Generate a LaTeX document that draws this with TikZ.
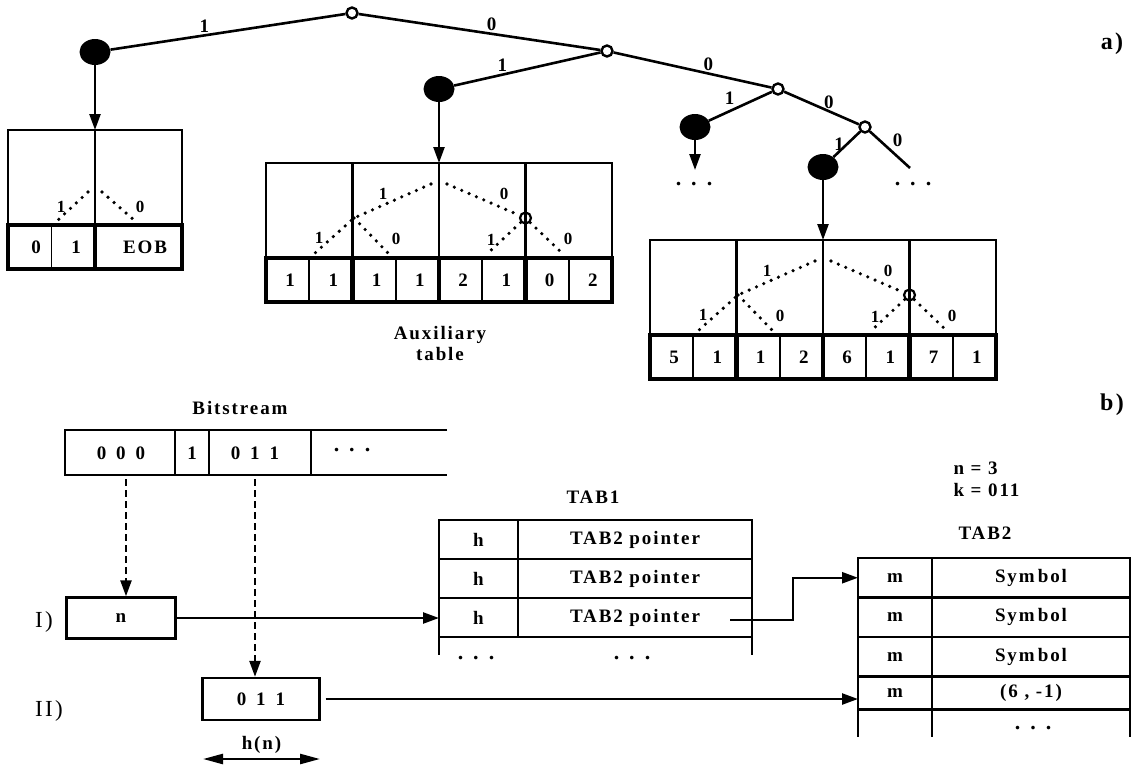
\documentclass[tikz,border=0pt]{standalone}
\usepackage{fontspec}
\setmainfont{Liberation Serif}[LetterSpace=10]
\usetikzlibrary{arrows.meta,positioning,shapes.geometric}
\newcommand{\bitgap}{\hspace{10pt}}

\begin{document}
\begin{tikzpicture}[x=1pt,y=-1pt,
  edge/.style={line width=2.6pt},
  frame/.style={line width=2.6pt},
  heavy/.style={line width=4.2pt},
  split/.style={line width=1.8pt},
  dotline/.style={line width=3.6pt,line cap=round,dash pattern=on 0pt off 8pt},
  arr/.style={line width=2.4pt,-{Triangle[length=16pt,width=11pt]}},
  dasharr/.style={arr,dash pattern=on 7pt off 4pt},
  dbl/.style={line width=2.4pt,{Triangle[length=20pt,width=10pt]}-{Triangle[length=20pt,width=10pt]}},
  knot/.style={circle,draw,line width=2.4pt,fill=white,minimum size=11pt,inner sep=0pt},
  ring/.style={circle,draw,line width=2.2pt,minimum size=11pt,inner sep=0pt},
  leaf/.style={ellipse,fill=black,minimum width=31pt,minimum height=26pt,inner sep=0pt},
  txt/.style={font=\bfseries\fontsize{19}{21}\selectfont},
  lbl/.style={txt,inner sep=1.5pt},
  small/.style={font=\bfseries\fontsize{17}{19}\selectfont,inner sep=0pt},
  dots/.style={font=\bfseries\fontsize{22}{24}\selectfont},
  cell/.style={draw,line width=2.4pt,outer sep=0pt,minimum height=39pt,inner sep=0pt,txt},
  cellb/.style={cell,minimum height=39.5pt},
]
\useasboundingbox (0,0) rectangle (1135,766);

\node[knot] (root) at (352,13) {};
\node[leaf] (l1) at (95,52) {};
\node[knot] (n2) at (607,51) {};
\node[leaf] (l2) at (439,89) {};
\node[knot] (n3) at (778,89) {};
\node[leaf] (l3) at (695,127) {};
\node[knot] (n4) at (865,127) {};
\node[leaf] (l4) at (823,167) {};
\coordinate (e4) at (910,168);

\draw[edge] (root) -- node[lbl,above,pos=0.6] {1} (l1);
\draw[edge] (root) -- node[lbl,above,pos=0.55] {0} (n2);
\draw[edge] (n2) -- node[lbl,above,pos=0.67] {1} (l2);
\draw[edge] (n2) -- node[lbl,above,pos=0.6] {0} (n3);
\draw[edge] (n3) -- node[lbl,above left,pos=0.55] {1} (l3);
\draw[edge] (n3) -- node[lbl,above,pos=0.6] {0} (n4);
\draw[edge] (n4) -- node[lbl,left,pos=0.5] {1} (l4);
\draw[edge] (n4) -- node[lbl,above right,pos=0.5] {0} (e4);

\coordinate (t1) at (95,130);
\coordinate (t2) at (439,163);
\coordinate (d3) at (695,170);
\coordinate (t4) at (823,240);
\draw[arr] (l1) -- (t1);
\draw[arr] (l2) -- (t2);
\draw[arr] (l3) -- (d3);
\draw[arr] (l4) -- (t4);
\node[dots] (dots3) at (694,184) {.\bitgap.\bitgap.};
\node[dots] (dots4) at (913,184) {.\bitgap.\bitgap.};
\node[font=\bfseries\fontsize{24}{26}\selectfont] (parta) at (1112,44) {a)};

\begin{scope}[shift={(8,130)}]
  \draw[frame] (0,0) rectangle (174,95);
  \draw[frame] (87,0) -- (87,95);
  \draw[heavy] (0,95) rectangle (174,139);
  \draw[heavy] (87,95) -- (87,139);
  \draw[split] (43.5,95) -- (43.5,139);
  \draw[dotline] (80,62) -- (50,90);
  \draw[dotline] (94,62) -- (126,90);
  \node[small] (la1) at (53,77) {1};
  \node[small] (la0) at (132,77) {0};
  \node[txt] (ld0) at (28,117) {0};
  \node[txt] (ld1) at (68,117) {1};
  \node[txt] (ldeob) at (137,117) {EOB};
\end{scope}

\foreach \tx/\ty/\tn in {266/163/m, 650/240/r} {
  \begin{scope}[shift={(\tx,\ty)}]
    \draw[frame] (0,0) rectangle (346,95);
    \foreach \k in {1,2,3} \draw[frame] (\k*86.5,0) -- (\k*86.5,95);
    \draw[heavy] (0,95) rectangle (346,139);
    \foreach \k in {1,2,3} \draw[heavy] (\k*86.5,95) -- (\k*86.5,139);
    \foreach \k in {0,...,3} \draw[split] (\k*86.5+43.25,95) -- (\k*86.5+43.25,139);
    \node[ring] (\tn-c) at (259.5,55) {};
    \draw[dotline] (165,21) -- (88,55) -- (49,90);
    \draw[dotline] (88,55) -- (122,90);
    \draw[dotline] (181,21) -- (\tn-c);
    \draw[dotline] (\tn-c) -- (222,90);
    \draw[dotline] (\tn-c) -- (296,90);
    \node[small] (\tn-a) at (117,31) {1};
    \node[small] (\tn-b) at (238,31) {0};
    \node[small] (\tn-e) at (53,75) {1};
    \node[small] (\tn-f) at (130,76) {0};
    \node[small] (\tn-g) at (225,77) {1};
    \node[small] (\tn-h) at (302,76) {0};
  \end{scope}
}
\foreach \d [count=\i from 0] in {1,1,1,1,2,1,0,2}
  \node[txt] (md\i) at (266+\i*43.25+24,280) {\d};
\foreach \d [count=\i from 0] in {5,1,1,2,6,1,7,1}
  \node[txt] (rd\i) at (650+\i*43.25+24,357) {\d};
\node[txt,align=center] (aux) at (440,343) {Auxiliary\\table};

\node[font=\bfseries\fontsize{24}{26}\selectfont] (partb) at (1112,405) {b)};
\node[txt] (bsl) at (240,408) {Bitstream};
\draw[frame] (447,430) -- (65,430) -- (65,475) -- (447,475);
\draw[frame] (175,430) -- (175,475) (209,430) -- (209,475) (311,430) -- (311,475);
\node[txt] (bs0) at (121,453) {0\bitgap0\bitgap0};
\node[txt] (bs1) at (192,453) {1};
\node[txt] (bs2) at (255,453) {0\bitgap1\bitgap1};
\node[dots] (bs3) at (352,450) {.\bitgap.\bitgap.};
\coordinate (cut1) at (126,479);
\coordinate (cut2) at (255,479);

\node[font=\fontsize{23}{25}\selectfont] (st1) at (44,622) {I)};
\node[font=\fontsize{23}{25}\selectfont] (st2) at (49,711) {II)};
\node[draw,line width=2.4pt,minimum width=109pt,minimum height=41pt,txt] (boxn) at (121,618) {n};
\node[draw,line width=2.4pt,minimum width=117pt,minimum height=42pt,txt] (boxk) at (261,699) {0\bitgap1\bitgap1};
\draw[dasharr] (cut1) -- (cut1 |- boxn.north);
\draw[dasharr] (cut2) -- (cut2 |- boxk.north);
\coordinate (hn1) at (203,759);
\coordinate (hn2) at (320,759);
\draw[dbl] (hn1) -- node[txt,above=1pt] {h(n)} (hn2);

\node[txt] (tab1) at (593,497) {TAB1};
\node[cell,minimum width=79pt] (h1) at (478.5,539.5) {h};
\node[cell,minimum width=234pt,right=0pt of h1] (p1) {TAB2 pointer};
\node[cell,minimum width=79pt,below=0pt of h1] (h2) {h};
\node[cell,minimum width=234pt,right=0pt of h2] (p2) {TAB2 pointer};
\node[cell,minimum width=79pt,below=0pt of h2] (h3) {h};
\node[cell,minimum width=234pt,right=0pt of h3] (p3) {TAB2 pointer};
\draw[frame] (h3.south west) -- ++(0,18) (p3.south east) -- ++(0,18);
\node[dots] (tdots1) at (476,658) {.\bitgap.\bitgap.};
\node[dots] (tdots2) at (632,658) {.\bitgap.\bitgap.};

\node[txt,anchor=west] (nval) at (950,468) {n = 3};
\node[txt,anchor=west] (kval) at (950,490) {k = 011};
\node[txt] (tab2) at (985,533) {TAB2};
\node[cellb,minimum width=74pt] (m1) at (895,577.75) {m};
\node[cellb,minimum width=198pt,right=0pt of m1] (s1) {Sym\,bol};
\node[cellb,minimum width=74pt,below=0pt of m1] (m2) {m};
\node[cellb,minimum width=198pt,right=0pt of m2] (s2) {Sym\,bol};
\node[cellb,minimum width=74pt,below=0pt of m2] (m3) {m};
\node[cellb,minimum width=198pt,right=0pt of m3] (s3) {Sym\,bol};
\node[cell,minimum height=33pt,minimum width=74pt,below=0pt of m3] (m4) {m};
\node[cell,minimum height=33pt,minimum width=198pt,right=0pt of m4] (s4) {(6 , -1)};
\draw[frame] (m4.south west) -- ++(0,27) (s4.south west) -- ++(0,27) (s4.south east) -- ++(0,27);
\node[dots] (tdots3) at (1033,728) {.\bitgap.\bitgap.};

\coordinate (ptr) at (730,620);
\draw[arr] (boxn.east) -- (boxn.east -| h3.west);
\draw[arr] (ptr) -- ++(63,0) |- (m1.west);
\draw[arr,shorten <=5pt] (boxk.east) -- (boxk.east -| m4.west);
\end{tikzpicture}
\end{document}
